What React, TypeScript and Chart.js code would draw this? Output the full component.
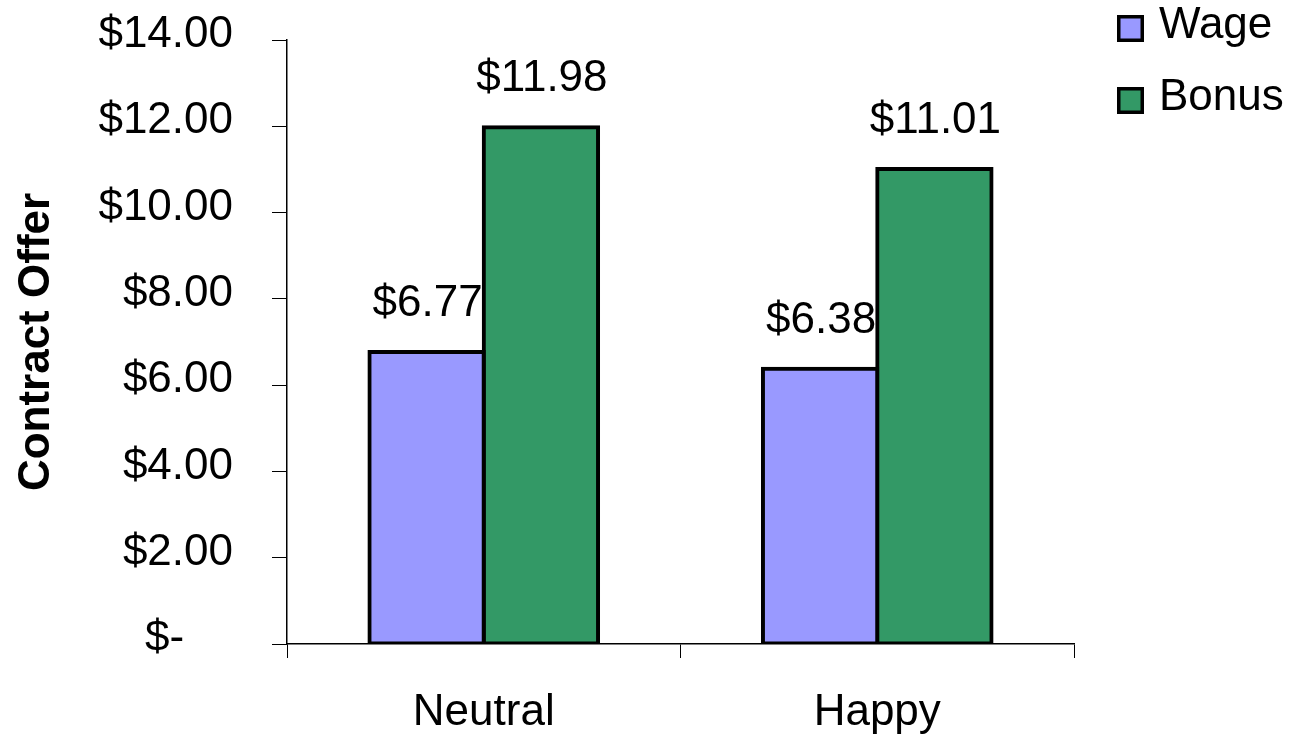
import React, { useEffect, useRef } from "react";
import { Chart, registerables } from "chart.js";

Chart.register(...registerables);

const categories = ["Neutral", "Happy"];
const seriesNames = ["Wage", "Bonus"];
const wageValues = [6.77, 6.38];
const bonusValues = [11.98, 11.01];
const seriesColors = ["#9999FF", "#339966"];
const yTickValues = [0, 2, 4, 6, 8, 10, 12, 14];

const FONT = "'Liberation Sans', Arial, Helvetica, sans-serif";
const FONT_SIZE = 44;

const money = (v: number) => (v === 0 ? "$-    " : "$" + v.toFixed(2));

// Value labels above each bar
const barValueLabels = {
  id: "barValueLabels",
  afterDatasetsDraw(chart: any) {
    const ctx = chart.ctx;
    ctx.save();
    ctx.font = `${FONT_SIZE}px ${FONT}`;
    ctx.fillStyle = "#000";
    ctx.textAlign = "center";
    ctx.textBaseline = "alphabetic";
    chart.data.datasets.forEach((ds: any, di: number) => {
      const meta = chart.getDatasetMeta(di);
      meta.data.forEach((el: any, i: number) => {
        const v = ds.data[i] as number;
        ctx.fillText("$" + v.toFixed(2), el.x + 1, el.y - 36);
      });
    });
    ctx.restore();
  },
};

// Legend with bordered square swatches, stacked at top right
const sideLegend = {
  id: "sideLegend",
  afterDraw(chart: any) {
    const ctx = chart.ctx;
    ctx.save();
    ctx.font = `${FONT_SIZE}px ${FONT}`;
    ctx.textAlign = "left";
    ctx.textBaseline = "alphabetic";
    chart.data.datasets.forEach((ds: any, i: number) => {
      const top = 15 + i * 72;
      ctx.fillStyle = ds.backgroundColor;
      ctx.fillRect(1117, top, 27, 27);
      ctx.lineWidth = 3.5;
      ctx.strokeStyle = "#000";
      ctx.strokeRect(1118.75, top + 1.75, 23.5, 23.5);
      ctx.fillStyle = "#000";
      ctx.fillText(ds.label, 1159, top + 23);
    });
    ctx.restore();
  },
};

export default function App() {
  const canvasRef = useRef<HTMLCanvasElement | null>(null);

  useEffect(() => {
    if (!canvasRef.current) return;
    const chart = new Chart(canvasRef.current, {
      type: "bar",
      data: {
        labels: categories,
        datasets: [
          {
            label: seriesNames[0],
            data: wageValues,
            backgroundColor: seriesColors[0],
            borderColor: "#000",
            borderWidth: 4,
            borderSkipped: false,
            inflateAmount: 2,
          },
          {
            label: seriesNames[1],
            data: bonusValues,
            backgroundColor: seriesColors[1],
            borderColor: "#000",
            borderWidth: 4,
            borderSkipped: false,
            inflateAmount: 2,
          },
        ],
      },
      options: {
        responsive: false,
        animation: false,
        events: [],
        layout: { padding: { top: 40, right: 215, bottom: 0, left: 0 } },
        datasets: {
          bar: { categoryPercentage: 0.581, barPercentage: 1 },
        },
        plugins: {
          legend: { display: false },
          tooltip: { enabled: false },
        },
        scales: {
          x: {
            afterFit: (s: any) => {
              s.height = 91;
              s.paddingLeft = 0;
              s.paddingRight = 0;
            },
            grid: {
              offset: true,
              drawOnChartArea: false,
              drawTicks: true,
              tickLength: 14,
              color: "#000",
              lineWidth: 1,
            },
            border: { display: true, color: "#000", width: 1.5 },
            ticks: {
              color: "#000",
              font: { family: FONT, size: FONT_SIZE },
              padding: 28,
            },
          },
          y: {
            min: 0,
            max: 14,
            afterFit: (s: any) => {
              s.width = 287;
              s.paddingTop = 0;
              s.paddingBottom = 0;
            },
            afterBuildTicks: (s: any) => {
              s.ticks = yTickValues.map((v) => ({ value: v }));
            },
            grid: {
              drawOnChartArea: false,
              drawTicks: true,
              tickLength: 15,
              color: "#000",
              lineWidth: 1,
            },
            border: { display: true, color: "#000", width: 1.5 },
            ticks: {
              color: "#000",
              font: { family: FONT, size: FONT_SIZE },
              padding: 39,
              labelOffset: -5,
              callback: (v: any) => money(Number(v)),
            },
            title: {
              display: true,
              text: "Contract Offer",
              color: "#000",
              font: { family: FONT, size: FONT_SIZE, weight: "bold" },
              padding: { top: 10, bottom: 0 },
            },
          },
        },
      },
      plugins: [barValueLabels, sideLegend],
    });
    return () => chart.destroy();
  }, []);

  return (
    <div
      style={{
        position: "absolute",
        left: 0,
        top: 0,
        width: 1289,
        height: 735,
        background: "#fff",
      }}
    >
      <canvas ref={canvasRef} width={1289} height={735} />
    </div>
  );
}
